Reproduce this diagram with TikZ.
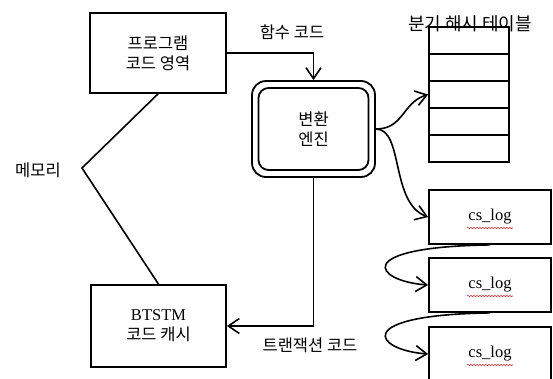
\documentclass[tikz,border=0pt]{standalone}
\usepackage{xcolor}
\usepackage{fontspec}
\setmainfont{Liberation Serif}
\newfontfamily\kofont{Noto Sans CJK KR}
\usetikzlibrary{arrows.meta,decorations.pathmorphing}
\definecolor{spellred}{HTML}{e03c3c}

\begin{document}
\begin{tikzpicture}[x=1pt,y=-1pt,
  >={Straight Barb[length=11pt,width=15pt]},
  box/.style={draw,line width=1.8pt,inner sep=0pt},
  link/.style={line width=1.6pt},
  kotext/.style={font=\kofont\fontsize{16.5}{20}\selectfont,align=center},
  latext/.style={font=\fontsize{16.5}{20}\selectfont,align=center},
  spellmark/.style={spellred,line width=0.6pt,decorate,
    decoration={snake,amplitude=0.8pt,segment length=3pt}}]
  \useasboundingbox (0,0) rectangle (553,378);
  \node[box,kotext,minimum width=136,minimum height=80] (prog) at (158,53) {프로그램\\코드 영역};
  \node[box,latext,minimum width=135,minimum height=82] (btstm) at (158.5,326) {BTSTM\\{\kofont 코드 캐시}};
  \node[box,rounded corners=14,minimum width=123,minimum height=96] (eng) at (313.5,129) {};
  \node[box,kotext,rounded corners=10,minimum width=110,minimum height=82] (engin) at (eng) {변환\\엔진};
  \foreach \i in {0,...,4}
    \node[box,minimum width=80,minimum height=27] (row\i) at (469,40.5+27*\i) {};
  \node[kotext,font=\kofont\fontsize{18}{20}\selectfont] (hashlbl) at (470,24) {분기 해시 테이블};
  \node[box,latext,minimum width=122,minimum height=54] (cs1) at (490,217) {cs\_log};
  \node[box,latext,minimum width=122,minimum height=54] (cs2) at (490,285) {cs\_log};
  \node[box,latext,minimum width=122,minimum height=54] (cs3) at (490,354) {cs\_log};
  \foreach \n in {cs1,cs2,cs3}
    \draw[spellmark] ([shift={(-23,11)}]\n.center) -- ([shift={(23,11)}]\n.center);
  \coordinate (mem) at (82,168);
  \node[kotext] (memlbl) at (38,170) {메모리};
  \node[kotext] (fnlbl) at (292,32) {함수 코드};
  \node[kotext] (txlbl) at (310,345) {트랜잭션 코드};
  \draw[link] (prog.south) -- (mem) -- (btstm.north);
  \draw[link,->] (prog.east) -| (eng.north);
  \draw[link,->] (eng.south) |- (btstm.east);
  \draw[link,->] (eng.east) .. controls +(28,0) and +(-26,8) .. (row2.west);
  \draw[link,->] (eng.east) .. controls +(28,0) and +(-38,-14) .. (cs1.west);
  \draw[link,->] (cs1.south) .. controls +(-140,2) and +(-54,-4) .. (cs2.west);
  \draw[link,->] (cs2.south) .. controls +(-140,2) and +(-54,-4) .. (cs3.west);
\end{tikzpicture}
\end{document}
